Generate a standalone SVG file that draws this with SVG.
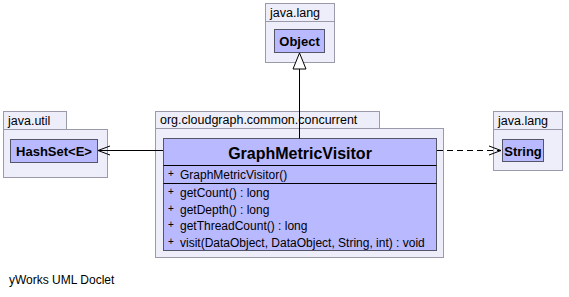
<svg xmlns="http://www.w3.org/2000/svg" width="569" height="297" viewBox="0 0 569 297">
  <style>
    .pkg { fill: #eeeefa; stroke: #9a9aaa; stroke-width: 1; }
    .cls { fill: #b9b9ff; stroke: #55556a; stroke-width: 1; }
    .sep { stroke: #000; stroke-width: 1; }
    .plabel { font-family: "Liberation Sans", Arial, sans-serif; font-size: 12.5px; fill: #000; }
    .cname { font-family: "Liberation Sans", Arial, sans-serif; font-size: 13px; font-weight: bold; fill: #000; text-anchor: middle; }
    .title { font-family: "Liberation Sans", Arial, sans-serif; font-size: 16px; font-weight: bold; fill: #000; text-anchor: middle; }
    .member { font-family: "Liberation Sans", Arial, sans-serif; font-size: 12px; fill: #000; }
    .vis { font-family: "Liberation Sans", Arial, sans-serif; font-size: 10px; fill: #000; }
    .edge { fill: none; stroke: #000; stroke-width: 1; }
  </style>

  <!-- package java.lang (top) with Object -->
  <g id="pkg-java-lang-top">
    <rect class="pkg" x="265.5" y="3.5" width="69" height="18"/>
    <rect class="pkg" x="265.5" y="21.5" width="69" height="41"/>
    <text class="plabel" x="270" y="17">java.lang</text>
  </g>
  <g id="cls-Object">
    <rect class="cls" x="274.5" y="29.5" width="50" height="23"/>
    <text class="cname" x="299.5" y="46">Object</text>
  </g>

  <!-- package java.util with HashSet<E> -->
  <g id="pkg-java-util">
    <rect class="pkg" x="3.5" y="111.5" width="63" height="18"/>
    <rect class="pkg" x="3.5" y="129.5" width="104" height="48"/>
    <text class="plabel" x="8" y="125">java.util</text>
  </g>
  <g id="cls-HashSet">
    <rect class="cls" x="10.5" y="139.5" width="87" height="23"/>
    <text class="cname" x="54" y="155.5">HashSet&lt;E&gt;</text>
  </g>

  <!-- package org.cloudgraph.common.concurrent with GraphMetricVisitor -->
  <g id="pkg-concurrent">
    <rect class="pkg" x="155.5" y="111.5" width="224" height="17"/>
    <rect class="pkg" x="155.5" y="128.5" width="288" height="129"/>
    <text class="plabel" x="160" y="124">org.cloudgraph.common.concurrent</text>
  </g>
  <g id="cls-GraphMetricVisitor">
    <rect class="cls" x="163.5" y="138.5" width="273" height="112"/>
    <line class="sep" x1="163.5" y1="165.5" x2="436.5" y2="165.5"/>
    <line class="sep" x1="163.5" y1="183.5" x2="436.5" y2="183.5"/>
    <text class="title" x="300" y="158.5">GraphMetricVisitor</text>
    <text class="vis" x="168" y="177">+</text>
    <text class="member" x="180" y="179">GraphMetricVisitor()</text>
    <text class="vis" x="168" y="195">+</text>
    <text class="member" x="180" y="197">getCount() : long</text>
    <text class="vis" x="168" y="211.5">+</text>
    <text class="member" x="180" y="213.5">getDepth() : long</text>
    <text class="vis" x="168" y="228">+</text>
    <text class="member" x="180" y="230">getThreadCount() : long</text>
    <text class="vis" x="168" y="244.5">+</text>
    <text class="member" x="180" y="246.5">visit(DataObject, DataObject, String, int) : void</text>
  </g>

  <!-- package java.lang (right) with String -->
  <g id="pkg-java-lang-right">
    <rect class="pkg" x="493.5" y="111.5" width="69" height="18"/>
    <rect class="pkg" x="493.5" y="129.5" width="69" height="41"/>
    <text class="plabel" x="498" y="125">java.lang</text>
  </g>
  <g id="cls-String">
    <rect class="cls" x="502.5" y="139.5" width="41" height="22"/>
    <text class="cname" x="523" y="155.5">String</text>
  </g>

  <!-- connectors -->
  <g id="connectors">
    <!-- generalization to Object -->
    <line class="edge" x1="299.5" y1="69" x2="299.5" y2="138.5"/>
    <polygon points="299.5,53 293,69 306,69" fill="#fff" stroke="#000" stroke-width="1"/>
    <!-- association to HashSet<E> -->
    <line class="edge" x1="163" y1="150.5" x2="98" y2="150.5"/>
    <polyline class="edge" points="110,146 98,150.5 110,155"/>
    <!-- dependency to String -->
    <line class="edge" x1="437" y1="150.5" x2="501" y2="150.5" stroke-dasharray="6,4"/>
    <polyline class="edge" points="489,146 501,150.5 489,155"/>
  </g>

  <text class="member" x="9" y="284">yWorks UML Doclet</text>
</svg>
